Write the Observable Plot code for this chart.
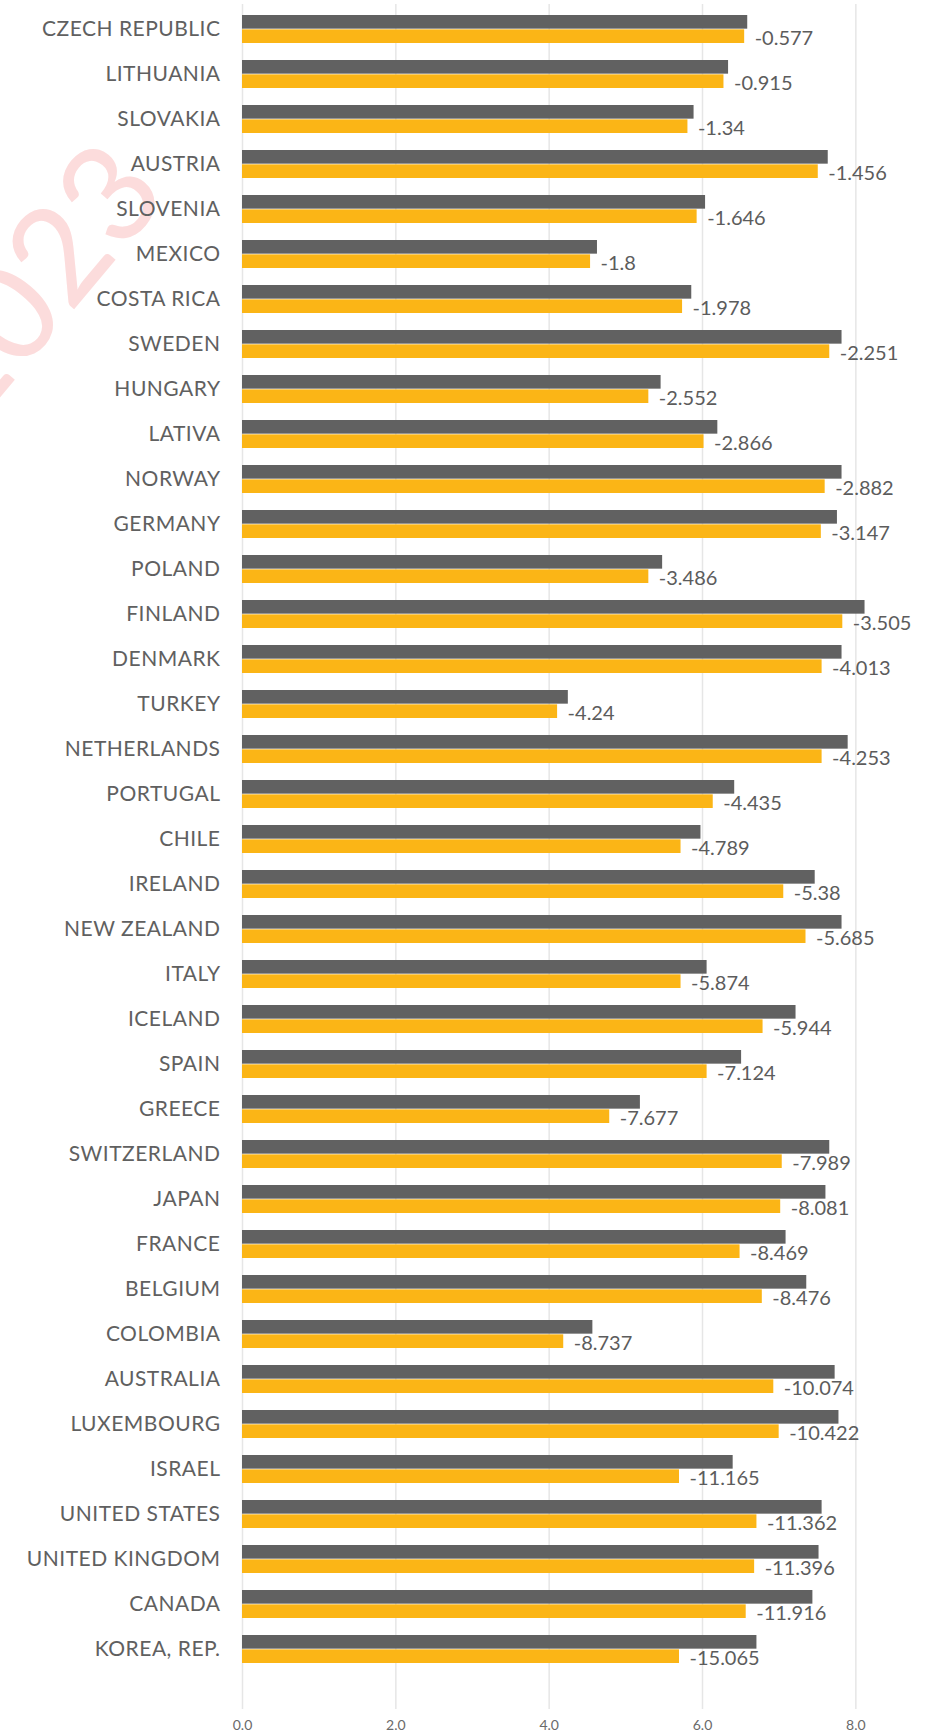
<!DOCTYPE html>
<html>
<head>
<meta charset="utf-8">
<script src="https://cdn.jsdelivr.net/npm/d3@7"></script>
<script src="https://cdn.jsdelivr.net/npm/@observablehq/plot@0.6"></script>
<style>
  html, body { margin: 0; padding: 0; background: #fff; }
  #chart svg { display: block; }
  #chart g[aria-label="y-axis tick label"] text { letter-spacing: 0.5px; }
</style>
</head>
<body>
<div id="chart"></div>
<script>
const countries = ["CZECH REPUBLIC","LITHUANIA","SLOVAKIA","AUSTRIA","SLOVENIA","MEXICO","COSTA RICA","SWEDEN","HUNGARY","LATIVA","NORWAY","GERMANY","POLAND","FINLAND","DENMARK","TURKEY","NETHERLANDS","PORTUGAL","CHILE","IRELAND","NEW ZEALAND","ITALY","ICELAND","SPAIN","GREECE","SWITZERLAND","JAPAN","FRANCE","BELGIUM","COLOMBIA","AUSTRALIA","LUXEMBOURG","ISRAEL","UNITED STATES","UNITED KINGDOM","CANADA","KOREA, REP."];
const before = [6.59,6.34,5.89,7.64,6.04,4.63,5.86,7.82,5.46,6.20,7.82,7.76,5.48,8.12,7.82,4.25,7.90,6.42,5.98,7.47,7.82,6.06,7.22,6.51,5.19,7.66,7.61,7.09,7.36,4.57,7.73,7.78,6.40,7.56,7.52,7.44,6.71];
const after = [6.55,6.28,5.81,7.51,5.93,4.54,5.74,7.66,5.30,6.02,7.60,7.55,5.30,7.83,7.56,4.11,7.56,6.14,5.72,7.06,7.35,5.72,6.79,6.06,4.79,7.04,7.02,6.49,6.78,4.19,6.93,7.00,5.70,6.71,6.68,6.57,5.70];
const change = [-0.577,-0.915,-1.34,-1.456,-1.646,-1.8,-1.978,-2.251,-2.552,-2.866,-2.882,-3.147,-3.486,-3.505,-4.013,-4.24,-4.253,-4.435,-4.789,-5.38,-5.685,-5.874,-5.944,-7.124,-7.677,-7.989,-8.081,-8.469,-8.476,-8.737,-10.074,-10.422,-11.165,-11.362,-11.396,-11.916,-15.065];
const xTicks = [0, 2, 4, 6, 8];
const watermark = ["2023"];

const rows = countries.map((c, i) => ({country: c, before: before[i], after: after[i], change: change[i]}));

const half = 14.34;

const chart = Plot.plot({
  width: 937,
  height: 1735,
  marginLeft: 242,
  marginRight: 5,
  marginTop: 4,
  marginBottom: 26,
  style: {fontFamily: "Lato, 'Open Sans', sans-serif", background: "#fff"},
  x: {domain: [0, 9]},
  y: {domain: countries, paddingInner: 0.367, paddingOuter: 0.5, align: 0.2},
  marks: [
    Plot.text(watermark, {text: d => d, frameAnchor: "top-left", dx: -246, dy: 248, rotate: -50, textAnchor: "middle", fontSize: 135, fontWeight: 400, fill: "#fcdcdc"}),
    Plot.gridX({ticks: xTicks, stroke: "#e6e6e6", strokeOpacity: 1, strokeWidth: 1.5}),
    Plot.barX(rows, {x: "before", y: "country", fill: "#616161", insetBottom: half}),
    Plot.barX(rows, {x: "after", y: "country", fill: "#fbb516", insetTop: half}),
    Plot.text(rows, {x: "after", y: "country", text: d => String(d.change), textAnchor: "start", dx: 10, dy: 9, fontSize: 20, fill: "#5c5c5c"}),
    Plot.axisY({tickSize: 0, tickPadding: 22, fontSize: 21, color: "#606060", label: null}),
    Plot.axisX({ticks: xTicks, tickFormat: d3.format(".1f"), tickSize: 0, tickPadding: 11, fontSize: 14, color: "#6a6a6a", label: null})
  ]
});
document.getElementById("chart").appendChild(chart);
</script>
</body>
</html>
